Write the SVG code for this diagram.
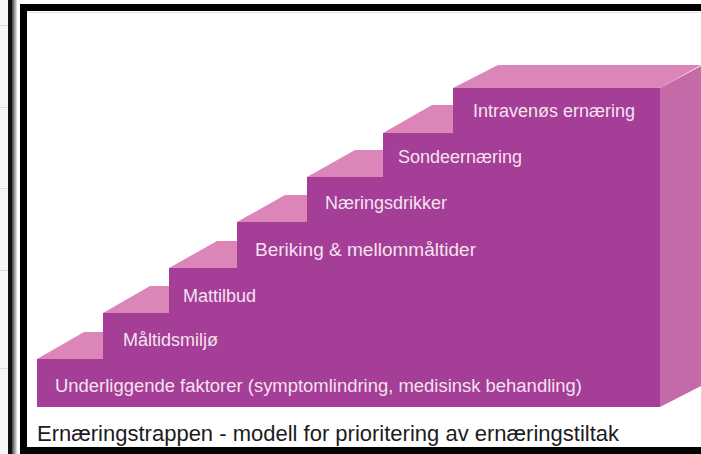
<svg xmlns="http://www.w3.org/2000/svg" width="701" height="454" viewBox="0 0 701 454">
  <defs>
    <linearGradient id="barGrad" x1="0" y1="0" x2="1" y2="0">
      <stop offset="0" stop-color="#444"/>
      <stop offset="1" stop-color="#e6e6e6"/>
    </linearGradient>
    <style>
      .front { fill: #A43E96; }
      .top { fill: #DB85B8; }
      .side { fill: #C56AA9; }
      .lbl { font-family: "Liberation Sans", Arial, sans-serif; font-size: 18px; fill: #F6E1F0; }
      .cap { font-family: "Liberation Sans", Arial, sans-serif; font-size: 22px; fill: #1c1c1c; }
    </style>
  </defs>
  <rect width="701" height="454" fill="#ffffff"/>
  <!-- left window strip -->
  <rect x="0" y="0" width="8" height="454" fill="#f6f6f6"/>
  <g stroke="#dcdcdc" stroke-width="1">
    <line x1="0" y1="25.5" x2="8" y2="25.5"/>
    <line x1="0" y1="107.5" x2="8" y2="107.5"/>
    <line x1="0" y1="188.5" x2="8" y2="188.5"/>
    <line x1="0" y1="270.5" x2="8" y2="270.5"/>
    <line x1="0" y1="368.5" x2="8" y2="368.5"/>
  </g>
  <rect x="8" y="0" width="4" height="454" fill="#111"/>
  <rect x="12" y="0" width="5" height="454" fill="url(#barGrad)"/>
  <!-- frame -->
  <rect x="23.5" y="7.5" width="700" height="443" fill="#ffffff" stroke="#000" stroke-width="7"/>
  <line x1="27" y1="12.5" x2="701" y2="12.5" stroke="#e4e4e4" stroke-width="1"/>

  <g id="side">
    <polygon class="side" points="660,88 701,66 701,386 660,407"/>
  </g>
  <g id="step7">
    <polygon class="top" points="453,88 498,65 701,65 660,88"/>
    <rect class="front" x="453" y="88" width="207" height="319"/>
    <text class="lbl" x="473" y="117">Intravenøs ernæring</text>
  </g>
  <g id="step6">
    <polygon class="top" points="383,133 432,105 453,105 453,133"/>
    <rect class="front" x="383" y="133" width="277" height="274"/>
    <text class="lbl" x="398" y="163">Sondeernæring</text>
  </g>
  <g id="step5">
    <polygon class="top" points="307,177 355,150 383,150 383,177"/>
    <rect class="front" x="307" y="177" width="353" height="230"/>
    <text class="lbl" x="325" y="209">Næringsdrikker</text>
  </g>
  <g id="step4">
    <polygon class="top" points="237,222 285,195 307,195 307,222"/>
    <rect class="front" x="237" y="222" width="423" height="185"/>
    <text class="lbl" x="255" y="256" textLength="221" lengthAdjust="spacingAndGlyphs">Beriking &amp; mellommåltider</text>
  </g>
  <g id="step3">
    <polygon class="top" points="169,268 217,241 237,241 237,268"/>
    <rect class="front" x="169" y="268" width="491" height="139"/>
    <text class="lbl" x="183" y="302">Mattilbud</text>
  </g>
  <g id="step2">
    <polygon class="top" points="103,313 150,286 169,286 169,313"/>
    <rect class="front" x="103" y="313" width="557" height="94"/>
    <text class="lbl" x="123" y="346">Måltidsmiljø</text>
  </g>
  <g id="step1">
    <polygon class="top" points="37,359 84,332 103,332 103,359"/>
    <rect class="front" x="37" y="359" width="623" height="48"/>
    <text class="lbl" x="55" y="392" textLength="527" lengthAdjust="spacingAndGlyphs">Underliggende faktorer (symptomlindring, medisinsk behandling)</text>
  </g>
  <g id="connectors"/>
  <text class="cap" x="37" y="441">Ernæringstrappen - modell for prioritering av ernæringstiltak</text>
</svg>
